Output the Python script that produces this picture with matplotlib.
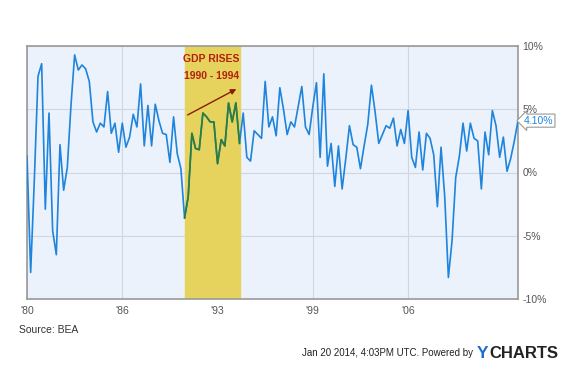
import numpy as np
import matplotlib.pyplot as plt
from matplotlib.transforms import blended_transform_factory

plt.rcParams['font.family'] = ['Liberation Sans', 'DejaVu Sans']

# US real GDP growth, quarterly, annualized % (BEA), 1980 Q1 - 2013 Q3
gdp = [1.3, -7.9, -0.6, 7.6,
       8.6, -2.9, 4.7, -4.6,
       -6.5, 2.2, -1.4, 0.4,
       5.3, 9.3, 8.1, 8.5,
       8.2, 7.2, 4.0, 3.2,
       3.9, 3.6, 6.4, 3.1,
       3.9, 1.6, 3.9, 2.0,
       2.8, 4.6, 3.6, 7.0,
       2.1, 5.3, 2.1, 5.4,
       4.1, 3.1, 3.0, 0.8,
       4.4, 1.5, 0.3, -3.6,
       -1.9, 3.1, 1.9, 1.8,
       4.7, 4.4, 4.0, 4.0,
       0.7, 2.6, 2.1, 5.5,
       4.0, 5.5, 2.3, 4.7,
       1.2, 0.9, 3.3, 3.0,
       2.7, 7.2, 3.6, 4.4,
       2.9, 6.7, 5.0, 3.0,
       4.0, 3.6, 5.2, 6.8,
       3.6, 3.0, 5.2, 7.1,
       1.2, 7.8, 0.5, 2.3,
       -1.1, 2.1, -1.3, 1.1,
       3.7, 2.2, 2.0, 0.3,
       2.1, 3.8, 6.9, 4.8,
       2.3, 3.0, 3.7, 3.5,
       4.3, 2.1, 3.4, 2.3,
       4.9, 1.2, 0.4, 3.2,
       0.2, 3.1, 2.7, 1.4,
       -2.7, 2.0, -1.9, -8.3,
       -5.4, -0.4, 1.3, 3.9,
       1.7, 3.9, 2.7, 2.5,
       -1.3, 3.2, 1.4, 4.9,
       3.7, 1.2, 2.8, 0.1,
       1.1, 2.5, 4.1]
start_year = 1980
rise_start, rise_end = 1990.75, 1994.5
x_ticks = [1980, 1986.5, 1993, 1999.5, 2006]
x_labels = ["'80", "'86", "'93", "'99", "'06"]
y_ticks = [-10, -5, 0, 5, 10]
y_labels = ['-10%', '-5%', '0%', '5%', '10%']

years = start_year + np.arange(len(gdp)) / 4
gdp = np.array(gdp)

fig = plt.figure(figsize=(5.85, 3.8), dpi=100)
ax = fig.add_axes([27/585, 1 - 299/380, 491/585, 253/380])
ax.set_facecolor('#ebf2fc')

ax.axvspan(rise_start, rise_end, color='#e6d35e', zorder=1)
ax.plot(years, gdp, color='#1e84dc', lw=1.2, zorder=3)
inside = (years >= rise_start) & (years <= rise_end)
ax.plot(years[inside], gdp[inside], color='#2e7d32', lw=1.2, zorder=4)

ax.set_xlim(years[0], years[-1])
ax.set_ylim(-10, 10)
ax.set_xticks(x_ticks)
ax.set_xticklabels(x_labels)
ax.set_yticks(y_ticks)
ax.set_yticklabels(y_labels)
ax.yaxis.tick_right()
ax.tick_params(length=0, labelsize=7.5, colors='#555555')
ax.tick_params(axis='x', pad=5)
ax.tick_params(axis='y', pad=3)
ax.grid(True, color='#cfd6df', lw=0.8, zorder=0)
ax.set_axisbelow(True)
for s in ax.spines.values():
    s.set_color('#999999')
    s.set_linewidth(1.2)

# annotation
ax.text(1992.6, 9.0, 'GDP RISES', color='#b3200e', fontsize=7.5,
        fontweight='bold', ha='center', va='center', zorder=5)
ax.text(1992.6, 7.6, '1990 - 1994', color='#b3200e', fontsize=7.5,
        fontweight='bold', ha='center', va='center', zorder=5)
ax.annotate('', xy=(1994.45, 6.7), xytext=(1990.8, 4.45),
            arrowprops=dict(arrowstyle='-|>', color='#8b1a0a', lw=1,
                            mutation_scale=8), zorder=5)

# last value label
tr = blended_transform_factory(ax.transAxes, ax.transData)
ax.text(1.012, gdp[-1], '%.2f%%' % gdp[-1], transform=tr, color='#1e84dc',
        fontsize=7.5, va='center', ha='left', zorder=6,
        bbox=dict(boxstyle='larrow,pad=0.15', fc='white', ec='#999999', lw=0.8))

fig.text(19/585, 1 - 330/380, 'Source: BEA', fontsize=7.5, color='#333333',
         va='center', ha='left')
fig.text(473/585, 1 - 353/380, 'Jan 20 2014, 4:03PM UTC. Powered by',
         fontsize=7, color='#222222', va='center', ha='right')
fig.text(477/585, 1 - 353/380, 'Y', fontsize=12.5, color='#1a6fd0',
         fontweight='bold', va='center', ha='left')
fig.text(489/585, 1 - 353/380, 'CHARTS', fontsize=12, color='#222222',
         fontweight='bold', va='center', ha='left')

fig.savefig('out.png', dpi=100)
